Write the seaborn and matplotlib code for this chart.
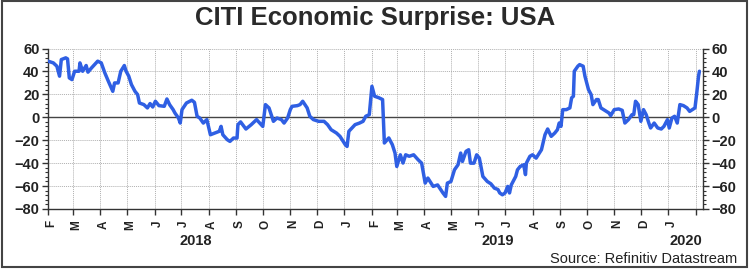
import matplotlib
matplotlib.use("Agg")
import matplotlib.pyplot as plt
import matplotlib.dates as mdates
import matplotlib.patches as patches
from matplotlib.ticker import MultipleLocator, FixedLocator, FixedFormatter
import matplotlib.transforms as mtransforms
import seaborn as sns
import pandas as pd

# ---------------- data ----------------
dates = [
    "2018-02-01", "2018-02-07", "2018-02-11", "2018-02-14", "2018-02-16", "2018-02-21", "2018-02-23",
    "2018-02-25", "2018-02-28", "2018-03-03", "2018-03-08", "2018-03-09", "2018-03-12", "2018-03-16",
    "2018-03-18", "2018-03-22", "2018-03-29", "2018-04-02", "2018-04-06", "2018-04-10", "2018-04-15",
    "2018-04-17", "2018-04-21", "2018-04-24", "2018-04-28", "2018-04-30", "2018-05-03", "2018-05-06",
    "2018-05-10", "2018-05-13", "2018-05-15", "2018-05-20", "2018-05-24", "2018-05-27", "2018-05-30",
    "2018-06-02", "2018-06-06", "2018-06-12", "2018-06-15", "2018-06-18", "2018-06-22", "2018-06-24",
    "2018-06-28", "2018-06-30", "2018-07-02", "2018-07-07", "2018-07-13", "2018-07-16", "2018-07-19",
    "2018-07-22", "2018-07-26", "2018-07-30", "2018-08-03", "2018-08-08", "2018-08-13", "2018-08-15",
    "2018-08-17", "2018-08-22", "2018-08-25", "2018-08-29", "2018-09-02", "2018-09-03", "2018-09-06",
    "2018-09-12", "2018-09-18", "2018-09-24", "2018-10-01", "2018-10-04", "2018-10-08", "2018-10-13",
    "2018-10-17", "2018-10-22", "2018-10-25", "2018-10-29", "2018-11-01", "2018-11-03", "2018-11-09",
    "2018-11-12", "2018-11-15", "2018-11-20", "2018-11-23", "2018-11-27", "2018-12-03", "2018-12-09",
    "2018-12-13", "2018-12-17", "2018-12-23", "2018-12-27",
    "2019-01-02", "2019-01-04", "2019-01-06", "2019-01-13", "2019-01-18", "2019-01-22", "2019-01-25",
    "2019-01-29", "2019-02-01", "2019-02-04", "2019-02-09", "2019-02-13", "2019-02-15", "2019-02-20",
    "2019-02-24", "2019-02-27", "2019-03-01", "2019-03-05", "2019-03-08", "2019-03-11", "2019-03-15",
    "2019-03-20", "2019-03-25", "2019-03-29", "2019-04-02", "2019-04-05", "2019-04-11", "2019-04-16",
    "2019-04-22", "2019-04-25", "2019-04-27", "2019-05-01", "2019-05-05", "2019-05-09", "2019-05-12",
    "2019-05-14", "2019-05-18", "2019-05-21", "2019-05-23", "2019-05-27", "2019-05-30", "2019-06-02",
    "2019-06-06", "2019-06-11", "2019-06-15", "2019-06-19", "2019-06-23", "2019-06-25", "2019-06-28",
    "2019-07-01", "2019-07-04", "2019-07-06", "2019-07-08", "2019-07-10", "2019-07-13", "2019-07-15",
    "2019-07-18", "2019-07-22", "2019-07-24", "2019-07-25", "2019-07-29", "2019-08-01", "2019-08-05",
    "2019-08-11", "2019-08-15", "2019-08-18", "2019-08-22", "2019-08-26", "2019-08-29", "2019-08-31",
    "2019-09-02", "2019-09-04", "2019-09-08", "2019-09-12", "2019-09-14", "2019-09-16", "2019-09-17",
    "2019-09-21", "2019-09-23", "2019-09-27", "2019-09-29", "2019-10-03", "2019-10-06", "2019-10-08",
    "2019-10-12", "2019-10-14", "2019-10-17", "2019-10-23", "2019-10-26", "2019-10-28", "2019-11-01",
    "2019-11-06", "2019-11-10", "2019-11-13", "2019-11-17", "2019-11-21", "2019-11-23", "2019-11-25",
    "2019-11-28", "2019-12-01", "2019-12-04", "2019-12-07", "2019-12-10", "2019-12-12", "2019-12-16",
    "2019-12-20", "2019-12-24", "2019-12-27", "2019-12-31",
    "2020-01-02", "2020-01-05", "2020-01-08", "2020-01-11", "2020-01-14", "2020-01-18", "2020-01-22",
    "2020-01-25", "2020-01-28", "2020-01-31", "2020-02-02", "2020-02-04", "2020-02-05",
]
surprise = [
    49, 47.5, 44.6, 35.9, 50.4, 51.9, 51,
    34.4, 32.9, 40.2, 40.2, 47.5, 40.2, 45.2,
    39.4, 43.1, 49, 47.5, 38.8, 31.5, 22.7,
    30, 30, 40.2, 45.2, 40.2, 35.9, 28.6,
    22.7, 19.8, 12.5, 11.1, 8.2, 12, 9,
    14, 10.2, 9.6, 16, 11.1, 6.7, 3.8,
    -0.6, -5, 6.7, 12.5, 14.9, 13.1, 0.9,
    -0.6, -5, -2, -15.2, -13.7, -12.2, -7.9,
    -15.2, -19.5, -21, -18.1, -18.1, -6.4, -4,
    -10.2, -6.4, -2, -7.9, 11.1, 8.2, -3.5,
    -0.6, -2, -5, -0.6, 6.7, 9.6, 10.2,
    11.1, 14, 8.2, 0.9, -2, -3.5, -3.5,
    -6.4, -10.8, -13.7, -16.6,
    -23.9, -25.4, -12.2, -6.4, -5, -3.5, 0.9,
    2.3, 27.1, 18.4, 17, 15.5, -22.4, -18,
    -23.9, -31.2, -42.9, -32.7, -39.9, -32.7, -34,
    -32.7, -37, -40, -57.4, -53, -60.3, -59,
    -66, -69, -57.4, -56, -45.8, -41.4, -31.2,
    -38.5, -29.7, -28.3, -40, -40, -32.7, -35.6,
    -51.6, -56, -58, -61.8, -63, -66, -67.6,
    -66, -60.3, -66, -59, -56, -51.6, -45.8,
    -42.9, -41.4, -50, -40, -34, -32.7, -35.6,
    -28.3, -15.2, -10.2, -16.6, -13.7, -10.8, -5,
    -7.9, 6.7, 6.7, 8.2, 17, 18.4, 40.2,
    44.6, 46, 44.6, 35.9, 24.2, 19.8, 11.1,
    15.5, 15.5, 8.2, 5.2, 3.8, 1.5, 6.7,
    7.3, 6.1, -5, -2, 2.3, 2.3, 14,
    11.1, -3.5, 6.7, 2.3, -5, -9.3, -5,
    -9.3, -10.2, -7.9, -2,
    -9.3, -0.6, 0.9, -5, 11.1, 10.2, 8.2,
    5.2, 6.7, 8.2, 21.3, 35.9, 40.2,
]
month_letters = ["F", "M", "A", "M", "J", "J", "A", "S", "O", "N", "D", "J",
                 "F", "M", "A", "M", "J", "J", "A", "S", "O", "N", "D", "J", ""]
month_starts = pd.date_range("2018-02-01", "2020-02-01", freq="MS")
year_labels = ["2018", "2019", "2020"]
year_label_dates = ["2018-07-18", "2019-06-23", "2020-01-21"]
y_ticks = [60, 40, 20, 0, -20, -40, -60, -80]

title = "CITI Economic Surprise: USA"
source = "Source: Refinitiv Datastream"

# ---------------- plotting ----------------
sns.set_theme(style="white")
plt.rcParams["font.family"] = ["Liberation Sans", "DejaVu Sans"]

df = pd.DataFrame({"date": pd.to_datetime(dates), "value": surprise})

fig = plt.figure(figsize=(7.5, 2.71), dpi=100)
ax = fig.add_axes([0.064, 0.2288, 0.8733, 0.592])

sns.lineplot(data=df, x="date", y="value", ax=ax, color="#2F5FE3",
             linewidth=2.5, solid_joinstyle="round", zorder=3)

ax.set_xlim(pd.Timestamp("2018-02-01"), pd.Timestamp("2020-02-09"))
ax.set_ylim(-80, 60)

# grid
ax.xaxis.set_major_locator(FixedLocator(mdates.date2num(month_starts)))
ax.xaxis.set_major_formatter(FixedFormatter(month_letters))
ax.yaxis.set_major_locator(FixedLocator(y_ticks))
ax.yaxis.set_minor_locator(MultipleLocator(4))
ax.grid(True, which="major", axis="both", color="#b0b0b0", linestyle=(0, (1, 1)), linewidth=0.7)
ax.axhline(0, color="#444444", linewidth=1.0, zorder=2)

for side in ["left", "right", "bottom"]:
    ax.spines[side].set_visible(True)
    ax.spines[side].set_color("#333333")
    ax.spines[side].set_linewidth(1.0)
ax.spines["top"].set_visible(False)

ax.tick_params(axis="y", which="major", direction="out", length=4, width=1, color="#333333",
               left=True, right=True, labelleft=True, labelright=True,
               labelsize=10.5, labelcolor="#222222", pad=2)
ax.tick_params(axis="y", which="minor", direction="out", length=2.5, width=0.8, color="#333333",
               left=True, right=True)
ax.tick_params(axis="x", which="major", direction="out", length=4, width=1, color="#333333",
               bottom=True, labelsize=8.5, labelcolor="#222222", pad=4, labelrotation=90)
for lbl in ax.get_xticklabels():
    lbl.set_fontweight("bold")
    lbl.set_transform(lbl.get_transform() + mtransforms.ScaledTranslation(3 / 100, 0, fig.dpi_scale_trans))
for lbl in ax.get_yticklabels():
    lbl.set_fontweight("bold")
ax.set_xlabel("")
ax.set_ylabel("")

# year labels
trans = mtransforms.blended_transform_factory(ax.transData, fig.transFigure)
for yl, yd in zip(year_labels, year_label_dates):
    ax.text(mdates.date2num(pd.Timestamp(yd)), 1 - 241 / 271, yl, transform=trans,
            ha="center", va="center", fontsize=10.5, fontweight="bold", color="#222222")

fig.text(0.5, 1 - 17.5 / 271, title, ha="center", va="center", fontsize=18.5,
         fontweight="bold", color="#2a2a2a")
fig.text(737 / 750, 1 - 259 / 271, source, ha="right", va="center", fontsize=10.5,
         color="#222222")

# figure border
fig.patches.append(patches.Rectangle((2 / 750, 4 / 271), 745 / 750, 266 / 271,
                                     transform=fig.transFigure, fill=False,
                                     edgecolor="#444444", linewidth=1.5))

fig.savefig("out.png", dpi=100, facecolor="white")
